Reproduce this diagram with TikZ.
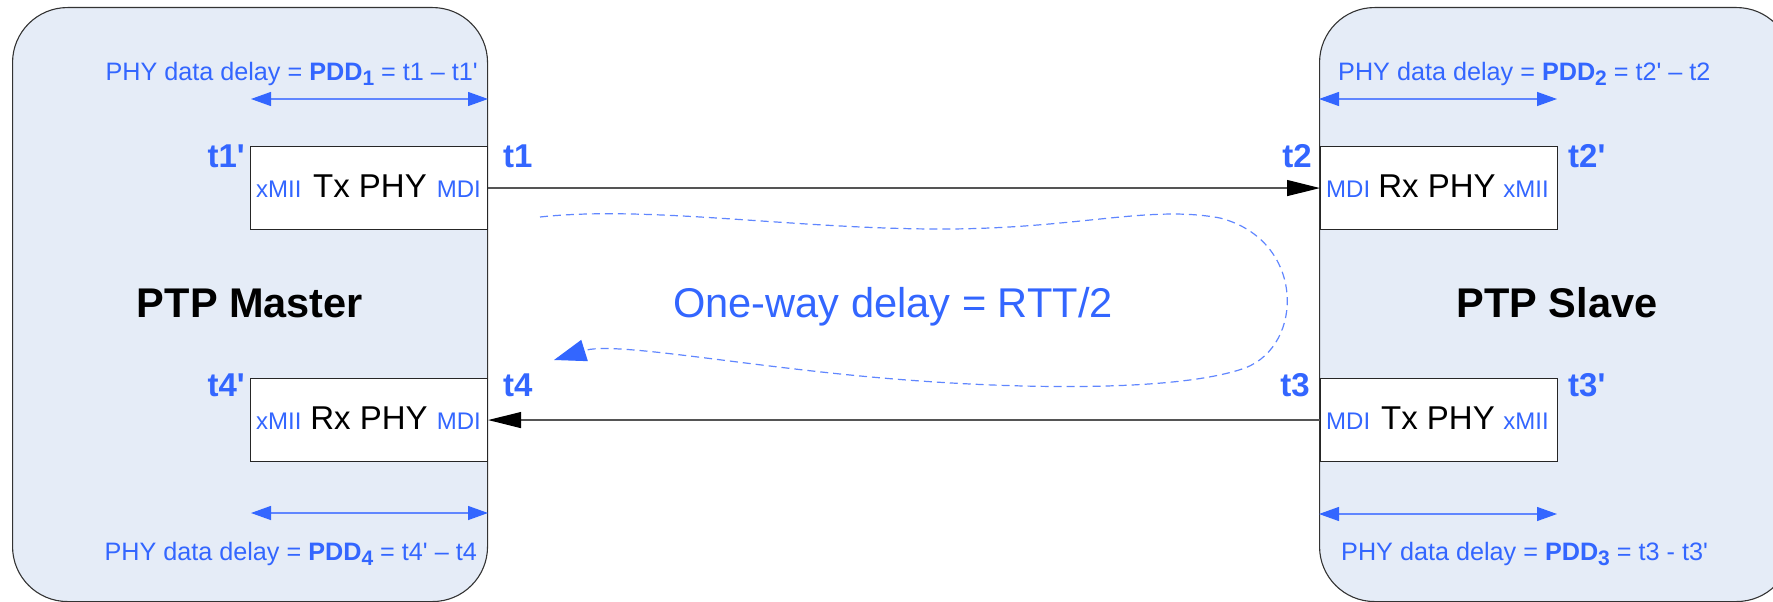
\documentclass[tikz,border=0pt]{standalone}
\usepackage{fontspec}
\setmainfont{Liberation Sans}
\usetikzlibrary{arrows.meta}

\definecolor{ptpblue}{RGB}{51,102,255}
\definecolor{lineblue}{RGB}{96,134,255}
\definecolor{panelfill}{RGB}{229,236,247}
\definecolor{wiregray}{RGB}{85,85,85}

% bold subscript digit used in the PDD labels
\newcommand\pddsub[1]{\raisebox{-5pt}{\fontsize{21}{21}\selectfont\bfseries #1}}
\newcommand\tq{\textquotesingle}

\tikzset{
  panel/.style={draw=black!80, line width=1.1pt, fill=panelfill, rounded corners=55pt,
                anchor=north west, inner sep=0pt},
  phybox/.style={draw=black!85, line width=1.1pt, fill=white, minimum width=237pt,
                 minimum height=83pt, anchor=north west, inner sep=0pt},
  port/.style={text=ptpblue, inner sep=0pt, font=\fontsize{24}{28}\selectfont},
  phyname/.style={text=black, inner sep=0pt, font=\fontsize{33}{38}\selectfont},
  tstamp/.style={text=ptpblue, inner sep=0pt, font=\fontsize{33}{37}\selectfont\bfseries},
  role/.style={text=black, inner sep=0pt, font=\fontsize{41.5}{46}\selectfont\bfseries},
  pddlabel/.style={text=ptpblue, inner sep=0pt, font=\fontsize{25.2}{29}\selectfont},
  pddarrow/.style={draw=lineblue, line width=1.3pt,
                   {Triangle[length=20pt,width=14pt,color=ptpblue]}-{Triangle[length=20pt,width=14pt,color=ptpblue]}},
  wire/.style={draw=wiregray, line width=1.2pt, -{Triangle[length=33pt,width=16pt,color=black]}},
  loopcurve/.style={draw=lineblue, line width=1.2pt, dash pattern=on 8pt off 5pt,
                    -{Triangle[length=32pt,width=22pt,color=ptpblue]}},
}

\begin{document}
\begin{tikzpicture}[x=1pt, y=-1pt]
\useasboundingbox (0,0) rectangle (1773,602);
\clip (0,0) rectangle (1773,602);

% the two clocks
\node[panel, minimum width=475pt, minimum height=594pt] (master) at (12,7) {};
\node[panel, minimum width=472pt, minimum height=594pt] (slave) at (1319,7) {};

\node[role, anchor=base] (masterlbl) at (250,317) {PTP Master};
\node[role, anchor=base] (slavelbl) at (1557,317) {PTP Slave};

% PHY blocks
\node[phybox] (txm) at (250,146) {};
\node[phybox] (rxm) at (250,378) {};
\node[phybox] (rxs) at (1320,146) {};
\node[phybox] (txs) at (1320,378) {};

% labels inside the PHY blocks
\node[port, anchor=base west] (txmA) at (256,197) {xMII};
\node[phyname, anchor=base] (txmB) at (370,197) {Tx PHY};
\node[port, anchor=base east] (txmC) at (481,197) {MDI};

\node[port, anchor=base west] (rxmA) at (256,429) {xMII};
\node[phyname, anchor=base] (rxmB) at (369,429) {Rx PHY};
\node[port, anchor=base east] (rxmC) at (481,429) {MDI};

\node[port, anchor=base west] (rxsA) at (1326,197) {MDI};
\node[phyname, anchor=base] (rxsB) at (1437,197) {Rx PHY};
\node[port, anchor=base east] (rxsC) at (1549,197) {xMII};

\node[port, anchor=base west] (txsA) at (1326,429) {MDI};
\node[phyname, anchor=base] (txsB) at (1438,429) {Tx PHY};
\node[port, anchor=base east] (txsC) at (1549,429) {xMII};

% timestamps
\node[tstamp, anchor=base east] (t1p) at (245,167) {t1\tq};
\node[tstamp, anchor=base west] (t1) at (503,167) {t1};
\node[tstamp, anchor=base east] (t2) at (1312,167) {t2};
\node[tstamp, anchor=base west] (t2p) at (1568,167) {t2\tq};
\node[tstamp, anchor=base east] (t4p) at (245,396) {t4\tq};
\node[tstamp, anchor=base west] (t4) at (503,396) {t4};
\node[tstamp, anchor=base east] (t3) at (1310,396) {t3};
\node[tstamp, anchor=base west] (t3p) at (1568,396) {t3\tq};

% link between the PHYs
\draw[wire] (txm.east) -- (rxs.west);
\draw[wire] (txs.west) -- (rxm.east);

% PHY data delay spans
\coordinate (p1a) at (251,99);  \coordinate (p1b) at (488,99);
\coordinate (p4a) at (251,513); \coordinate (p4b) at (488,513);
\coordinate (p2a) at (1319,99);  \coordinate (p2b) at (1557,99);
\coordinate (p3a) at (1319,514); \coordinate (p3b) at (1557,514);
\draw[pddarrow] (p1a) -- (p1b);
\draw[pddarrow] (p4a) -- (p4b);
\draw[pddarrow] (p2a) -- (p2b);
\draw[pddarrow] (p3a) -- (p3b);

\node[pddlabel, anchor=base east] (pdd1) at (478,81)
  {PHY data delay = \textbf{PDD}\pddsub{1} = t1 – t1\tq};
\node[pddlabel, anchor=base east] (pdd4) at (477,560)
  {PHY data delay = \textbf{PDD}\pddsub{4} = t4\tq{} – t4};
\node[pddlabel, anchor=base west] (pdd2) at (1338,81)
  {PHY data delay = \textbf{PDD}\pddsub{2} = t2\tq{} – t2};
\node[pddlabel, anchor=base west] (pdd3) at (1341,560)
  {PHY data delay = \textbf{PDD}\pddsub{3} = t3 - t3\tq};

% round trip
\node[text=ptpblue, inner sep=0pt, font=\fontsize{41.6}{46}\selectfont, anchor=base] (owd) at (893,317)
  {One-way delay = RTT/2};
\coordinate (rttstart) at (540,217);
\coordinate (rttend) at (554,360);
\draw[loopcurve] (rttstart)
  .. controls (650,205) and (800,230) .. (950,229)
  .. controls (1080,228) and (1150,205) .. (1220,218)
  .. controls (1305,240) and (1305,345) .. (1245,368)
  .. controls (1175,393) and (1000,390) .. (850,375)
  .. controls (720,362) and (612,342) .. (rttend);
\end{tikzpicture}
\end{document}
